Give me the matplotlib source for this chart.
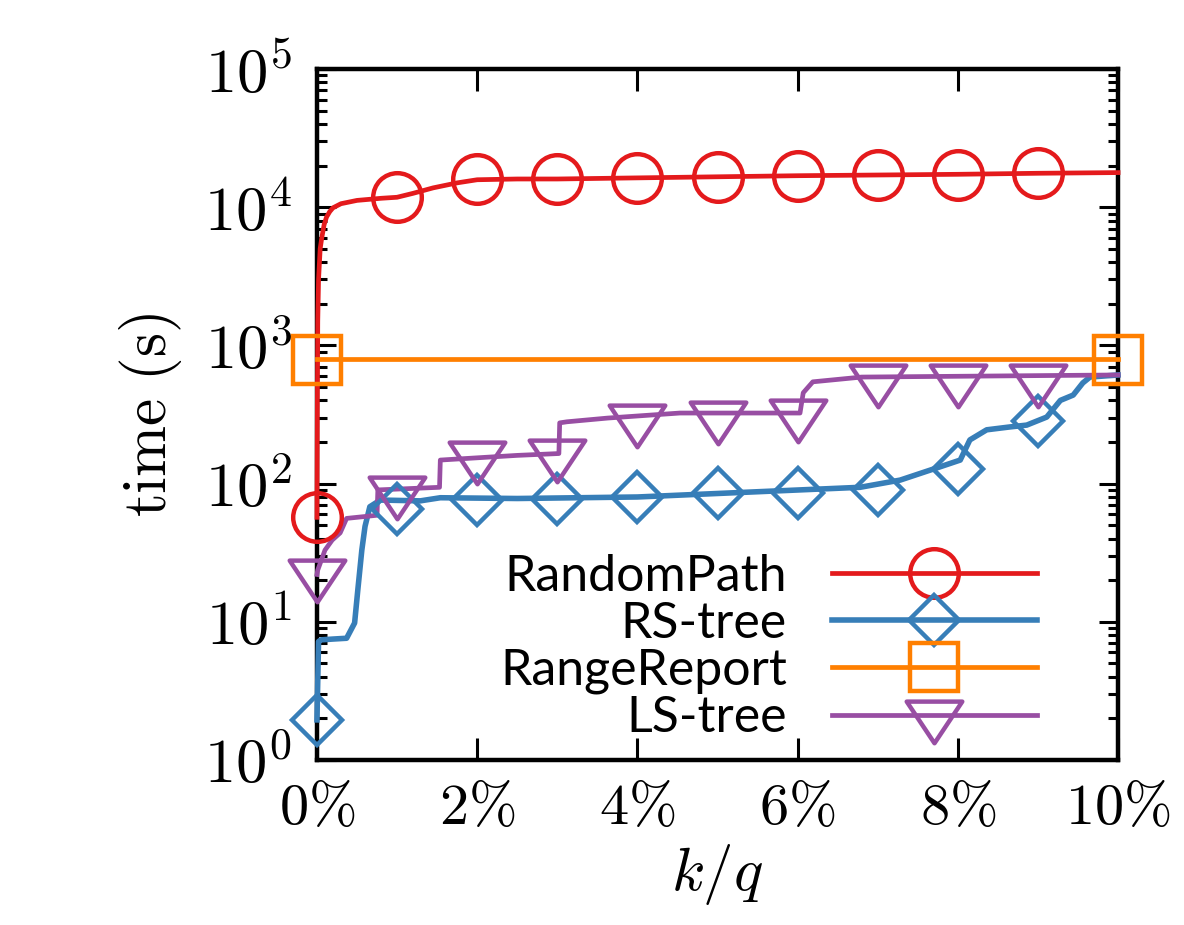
import numpy as np
import matplotlib
matplotlib.use("Agg")
from matplotlib import pyplot as plt
from matplotlib.lines import Line2D
from matplotlib.path import Path
from matplotlib.ticker import FixedLocator, NullFormatter, LogLocator

plt.rcParams["mathtext.fontset"] = "cm"

# ---------------------------------------------------------------------------
# Data (k/q in percent, time in seconds)
# ---------------------------------------------------------------------------
marker_x = [0, 1, 2, 3, 4, 5, 6, 7, 8, 9]

randompath_x = [0, 0.005, 0.01, 0.02, 0.04, 0.06, 0.09, 0.12, 0.16, 0.2,
                0.3, 0.5, 0.8, 1.0, 1.2, 1.45, 1.75, 2.0, 2.5, 3.0, 4.0,
                5.0, 6.0, 7.0, 8.0, 9.0, 10.0]
randompath_y = [57, 400, 1500, 3000, 5000, 6000, 7500, 8500, 9300, 9900,
                10600, 11200, 11600, 11800, 12600, 13800, 15000, 15800,
                16000, 16000, 16300, 16600, 16900, 17100, 17300, 17600,
                17800]
randompath_marks = [57, 11800, 16000, 16000, 16300, 16500, 16800, 17100,
                    17100, 17700]

rstree_x = [0, 0.02, 0.05, 0.2, 0.37, 0.47, 0.51, 0.56, 0.60, 0.66, 0.79,
            1.29, 1.54, 2.5, 4.0, 5.44, 6.78, 7.28, 7.74, 8.03, 8.15, 8.36,
            8.65, 8.86, 9.11, 9.28, 9.44, 9.56, 9.65, 10.0]
rstree_y = [1.95, 7.2, 7.4, 7.5, 7.6, 9.8, 17, 33, 49, 68, 76,
            75, 79, 78, 80, 87, 94, 106, 130, 148, 207, 245,
            257, 265, 303, 400, 437, 535, 590, 611]
rstree_marks = [1.95, 66, 76, 77, 80, 85, 85, 90, 127, 282]

rangereport_x = [0, 10]
rangereport_y = [800, 800]
rangereport_marks_x = [0, 10]
rangereport_marks = [790, 790]

lstree_x = [0, 0.01, 0.1, 0.19, 0.29, 0.37, 0.75, 0.76, 1.53, 1.54, 2.5,
            3.02, 3.03, 3.12, 3.63, 4.53, 6.03, 6.07, 6.19, 6.8, 10.0]
lstree_y = [22, 23.7, 33, 39, 44, 56, 59, 90, 94, 148, 160,
            165, 275, 280, 298, 324, 324, 454, 545, 590, 611]
lstree_marks = [22, 89, 158, 165, 294, 309, 318, 571, 571, 571]

xtick_vals = [0, 2, 4, 6, 8, 10]
xtick_labels = [r"$0\%$", r"$2\%$", r"$4\%$", r"$6\%$", r"$8\%$", r"$10\%$"]
ytick_vals = [1, 10, 100, 1000, 10000, 100000]
ytick_labels = [r"$10^{0}$", r"$10^{1}$", r"$10^{2}$", r"$10^{3}$",
                r"$10^{4}$", r"$10^{5}$"]

# ---------------------------------------------------------------------------
# Styles
# ---------------------------------------------------------------------------
RED = "#e41a1c"
BLUE = "#377eb8"
ORANGE = "#ff7f00"
PURPLE = "#984ea3"

# triangle-down with its centroid on the data point (gnuplot style)
tri_down = Path([(-1.0, 0.5), (1.0, 0.5), (0.0, -1.0), (-1.0, 0.5)],
                [Path.MOVETO, Path.LINETO, Path.LINETO, Path.CLOSEPOLY])

series = [
    ("RandomPath", randompath_x, randompath_y, marker_x, randompath_marks,
     RED, "o", 35, 3.4),
    ("RS-tree", rstree_x, rstree_y, marker_x, rstree_marks,
     BLUE, "D", 25, 4.0),
    ("RangeReport", rangereport_x, rangereport_y, rangereport_marks_x,
     rangereport_marks, ORANGE, "s", 34, 3.4),
    ("LS-tree", lstree_x, lstree_y, marker_x, lstree_marks,
     PURPLE, tri_down, 40, 3.4),
]

fig = plt.figure(figsize=(11.84, 9.25), dpi=100)
ax = fig.add_axes([0.2677, 0.1784, 0.6766, 0.7470])

handles = []
for name, lx, ly, mx, my, color, marker, ms, lw in series:
    ax.plot(lx, ly, color=color, linewidth=lw, clip_on=False, zorder=3)
    ax.plot(mx, my, linestyle="none", marker=marker, markersize=ms,
            markerfacecolor="none", markeredgecolor=color,
            markeredgewidth=3.2, clip_on=False, zorder=4)
    handles.append(Line2D([], [], color=color, linewidth=lw, marker=marker,
                          markersize=ms, markerfacecolor="none",
                          markeredgecolor=color, markeredgewidth=3.2,
                          label=name))

ax.set_yscale("log")
ax.set_ylim(1, 1e5)
ax.set_xlim(0, 10)

ax.xaxis.set_major_locator(FixedLocator(xtick_vals))
ax.set_xticklabels(xtick_labels)
ax.yaxis.set_major_locator(FixedLocator(ytick_vals))
ax.set_yticklabels(ytick_labels)
ax.yaxis.set_minor_locator(LogLocator(base=10, subs=np.arange(2, 10),
                                      numticks=20))
ax.yaxis.set_minor_formatter(NullFormatter())

ax.tick_params(axis="both", which="both", direction="in",
               top=True, right=True, width=2.2)
ax.tick_params(axis="x", which="major", length=16, pad=14, labelsize=42)
ax.tick_params(axis="y", which="major", length=14, pad=18, labelsize=45)
ax.tick_params(axis="y", which="minor", length=7)
for sp in ax.spines.values():
    sp.set_linewidth(3.2)

ax.set_xlabel(r"$k/q$", fontsize=44, labelpad=4)
ax.set_ylabel(r"$\mathrm{time\ (s)}$", fontsize=44)
ax.yaxis.set_label_coords(-0.166, 0.5)

leg = ax.legend(handles=handles, loc="lower right",
                bbox_to_anchor=(0.930, -0.009), frameon=False,
                markerfirst=False, handlelength=4.1, handletextpad=0.9,
                labelspacing=0.02, borderpad=0.0,
                prop={"family": "Lato", "size": 36})

fig.savefig("out.png", dpi=100)
